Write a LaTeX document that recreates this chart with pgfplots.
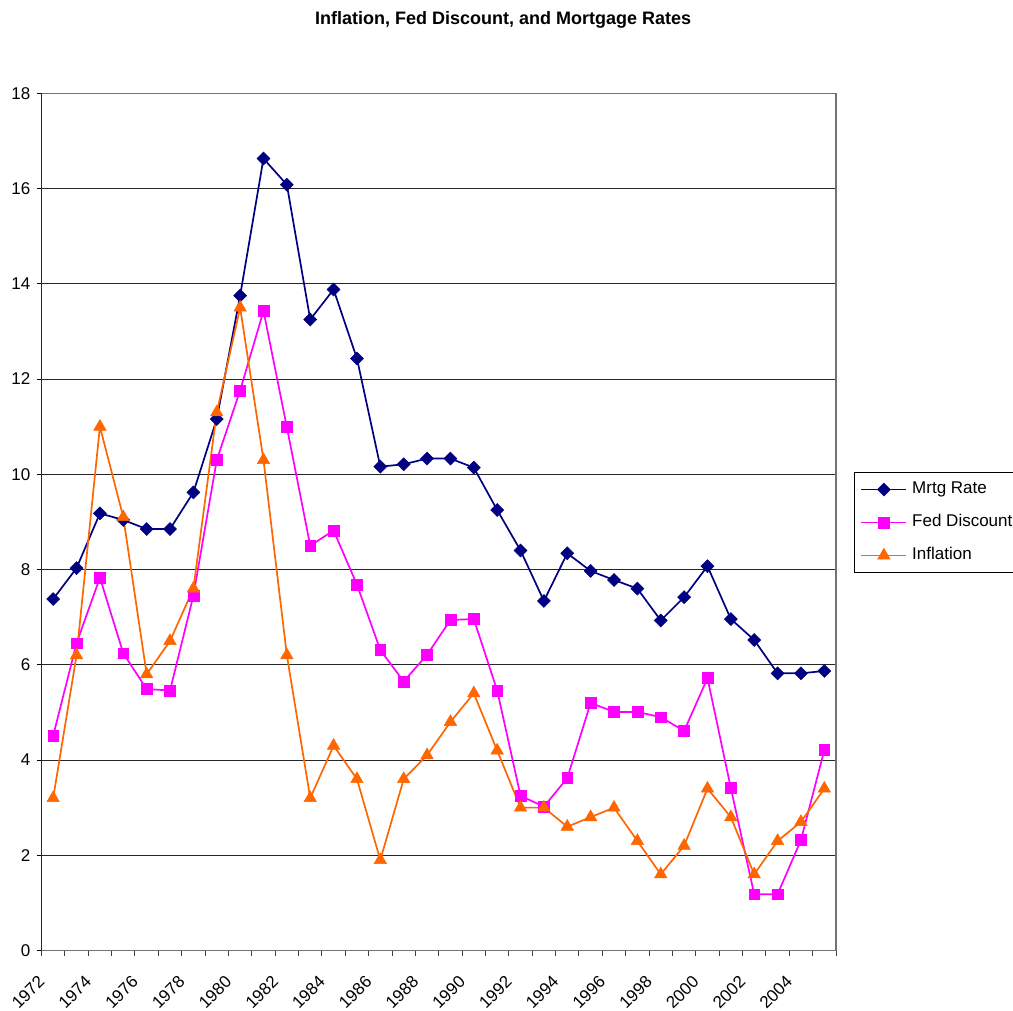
\documentclass[border=0pt]{standalone}
\usepackage{fontspec}
\setmainfont{Liberation Sans}
\usepackage{pgfplots}
\usepackage{pgfplotstable}
\pgfplotsset{compat=1.18}
\definecolor{mnavy}{RGB}{0,0,128}
\definecolor{mmag}{RGB}{255,0,255}
\definecolor{morange}{RGB}{255,102,0}
\pgfplotstableread{
year mrtg fed infl
1972 7.38 4.51 3.2
1973 8.03 6.45 6.2
1974 9.18 7.83 11.0
1975 9.04 6.24 9.1
1976 8.85 5.49 5.8
1977 8.85 5.46 6.5
1978 9.62 7.45 7.6
1979 11.16 10.30 11.3
1980 13.75 11.76 13.5
1981 16.63 13.43 10.3
1982 16.08 10.99 6.2
1983 13.25 8.50 3.2
1984 13.88 8.82 4.3
1985 12.43 7.68 3.6
1986 10.16 6.31 1.9
1987 10.21 5.65 3.6
1988 10.33 6.21 4.1
1989 10.33 6.94 4.8
1990 10.14 6.96 5.4
1991 9.25 5.46 4.2
1992 8.40 3.25 3.0
1993 7.34 3.02 3.0
1994 8.34 3.62 2.6
1995 7.97 5.20 2.8
1996 7.78 5.01 3.0
1997 7.60 5.01 2.3
1998 6.93 4.90 1.6
1999 7.42 4.61 2.2
2000 8.07 5.72 3.4
2001 6.96 3.41 2.8
2002 6.52 1.18 1.6
2003 5.82 1.18 2.3
2004 5.82 2.32 2.7
2005 5.87 4.21 3.4
}\datatable
\begin{document}
\begin{tikzpicture}
\useasboundingbox (0,0) rectangle (1013pt,-1011pt);
\begin{axis}[
  at={(41.5pt,-950.5pt)}, anchor=south west,
  scale only axis, width=794.5pt, height=857.2pt,
  xmin=1971.5, xmax=2005.5, ymin=0, ymax=18,
  ytick={0,2,...,18},
  xtick={1972,1974,...,2004},
  xticklabels={1972,1974,1976,1978,1980,1982,1984,1986,1988,1990,1992,1994,1996,1998,2000,2002,2004},
  minor xtick={1971.5,1972.5,...,2005.5},
  xtick pos=bottom, ytick pos=left,
  /pgf/number format/assume math mode=true,
  tick align=outside, major tick length=5pt, minor tick length=5pt,
  major x tick style={draw=none},
  minor x tick style={black!75, line width=1pt},
  major y tick style={black, line width=1pt},
  ymajorgrids, grid style={black!85, line width=1pt},
  axis line style={black!55, line width=1.5pt},
  tick label style={font=\fontsize{17}{20}\selectfont},
  yticklabel style={anchor=east, inner sep=0pt, xshift=-6pt},
  xticklabel style={xshift=-16pt, yshift=-19pt, rotate=45, anchor=north east, inner sep=0pt},
  title={\textbf{Inflation, Fed Discount, and Mortgage Rates}},
  title style={at={(0.581,1.0785)}, anchor=center, font=\fontsize{18}{21}\selectfont},
  legend style={at={(1.0227,0.5582)}, anchor=north west, draw=black, line width=1pt,
    font=\fontsize{17}{20}\selectfont, inner xsep=6pt, inner ysep=9pt, row sep=17pt,
    column sep=5pt, nodes={inner sep=0pt, text height=12pt, text depth=4pt}},
  legend cell align=left,
  legend image code/.code={\draw[mark repeat=2,mark phase=2,#1] plot coordinates {(0pt,0pt) (22.5pt,0pt) (45pt,0pt)};},
]
\addplot[mnavy, line width=1.7pt, mark=square*, mark size=4.6pt, mark options={rotate=45, solid, line width=0.5pt}] table[x=year,y=mrtg]{\datatable};
\addlegendentry{Mrtg Rate}
\addplot[mmag, line width=1.7pt, mark=square*, mark size=5.4pt, mark options={solid, line width=0.5pt}] table[x=year,y=fed]{\datatable};
\addlegendentry{Fed Discount}
\addplot[morange, line width=1.7pt, mark=triangle*, mark size=7.2pt, mark options={solid, line width=0.5pt}] table[x=year,y=infl]{\datatable};
\addlegendentry{Inflation}
\draw[black, line width=1.5pt] (rel axis cs:0,0) -- (rel axis cs:0,1);
\end{axis}
\end{tikzpicture}
\end{document}
